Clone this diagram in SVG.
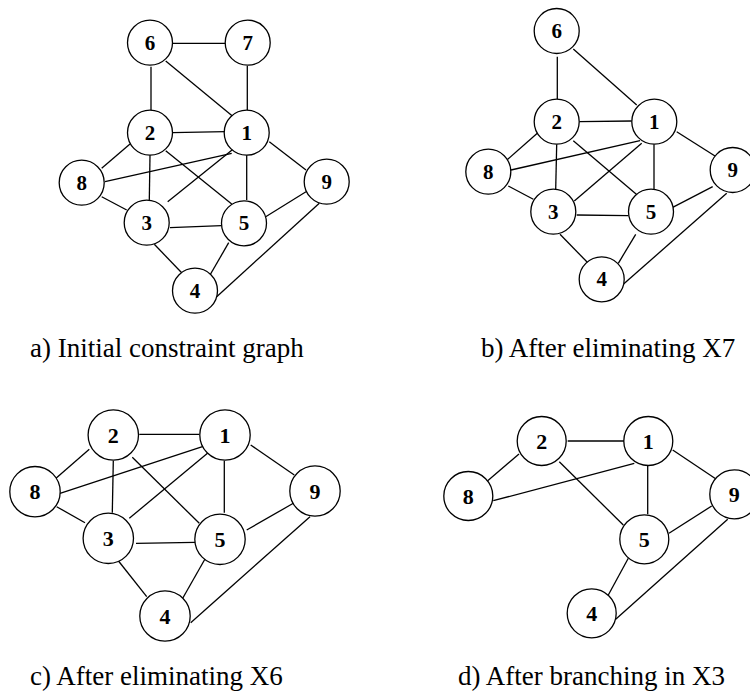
<svg xmlns="http://www.w3.org/2000/svg" width="750" height="691" viewBox="0 0 750 691">
  <style>
    .edge { stroke: #000; stroke-width: 1.3; fill: none; }
    .node circle { fill: #fff; stroke: #000; stroke-width: 1.3; }
    .node text { font-family: "Liberation Serif", "Times New Roman", serif; font-weight: bold; text-anchor: middle; dominant-baseline: central; fill: #000; }
    .small text { font-size: 21px; }
    .large text { font-size: 22px; }
    .caption { font-family: "Liberation Serif", "Times New Roman", serif; font-size: 27px; fill: #000; }
  </style>
  <rect width="750" height="691" fill="#fff"/>

  <!-- Panel a: initial constraint graph -->
  <g id="panel-a">
    <g id="a-edges" class="edge">
      <line x1="172.3" y1="43.3" x2="225.7" y2="43.3"/>
      <line x1="151" y1="66.7" x2="151" y2="110"/>
      <line x1="165.7" y1="61" x2="233.3" y2="116.7"/>
      <line x1="247.3" y1="66" x2="247.3" y2="110"/>
      <line x1="172.3" y1="132.7" x2="225.7" y2="131.7"/>
      <line x1="130" y1="144" x2="101.7" y2="168.3"/>
      <line x1="150" y1="155" x2="149.3" y2="200"/>
      <line x1="165.7" y1="150.7" x2="231.7" y2="204"/>
      <line x1="231.7" y1="153.3" x2="105" y2="181.7"/>
      <line x1="233.3" y1="149" x2="167.7" y2="201.7"/>
      <line x1="246.7" y1="155" x2="246.7" y2="200"/>
      <line x1="269.3" y1="141.7" x2="306" y2="170"/>
      <line x1="101.7" y1="196.7" x2="126.7" y2="210"/>
      <line x1="170" y1="227.7" x2="221.7" y2="225.7"/>
      <line x1="154.3" y1="244.3" x2="181.7" y2="272.7"/>
      <line x1="228.7" y1="242.7" x2="210" y2="275"/>
      <line x1="265.7" y1="216.7" x2="306" y2="191.7"/>
      <line x1="319.3" y1="203.3" x2="216.7" y2="296.7"/>
    </g>
    <g id="a-node-6" class="node small"><circle cx="150" cy="42.7" r="22.5"/><text x="150" y="42.7">6</text></g>
    <g id="a-node-7" class="node small"><circle cx="247.7" cy="42.7" r="22.5"/><text x="247.7" y="42.7">7</text></g>
    <g id="a-node-2" class="node small"><circle cx="150" cy="132.7" r="22.5"/><text x="150" y="132.7">2</text></g>
    <g id="a-node-1" class="node small"><circle cx="246.7" cy="132.7" r="22.5"/><text x="246.7" y="132.7">1</text></g>
    <g id="a-node-8" class="node small"><circle cx="81.7" cy="182.7" r="22.5"/><text x="81.7" y="182.7">8</text></g>
    <g id="a-node-9" class="node small"><circle cx="326.7" cy="181.7" r="22.5"/><text x="326.7" y="181.7">9</text></g>
    <g id="a-node-3" class="node small"><circle cx="146.7" cy="222.7" r="22.5"/><text x="146.7" y="222.7">3</text></g>
    <g id="a-node-5" class="node small"><circle cx="244" cy="223.3" r="22.5"/><text x="244" y="223.3">5</text></g>
    <g id="a-node-4" class="node small"><circle cx="195" cy="290.7" r="22.5"/><text x="195" y="290.7">4</text></g>
    <text class="caption" x="30" y="357">a) Initial constraint graph</text>
  </g>

  <!-- Panel b: after eliminating X7 -->
  <g id="panel-b">
    <g id="b-edges" class="edge">
      <line x1="557.3" y1="56.7" x2="557.3" y2="99"/>
      <line x1="573.3" y1="49" x2="636.7" y2="105"/>
      <line x1="579.3" y1="121.7" x2="631.7" y2="121"/>
      <line x1="537.3" y1="133.3" x2="507.7" y2="159.3"/>
      <line x1="556.7" y1="144.3" x2="555.7" y2="189.3"/>
      <line x1="573.3" y1="140.7" x2="639.3" y2="196.7"/>
      <line x1="640" y1="140.7" x2="511" y2="170"/>
      <line x1="641.7" y1="143.3" x2="574.3" y2="201"/>
      <line x1="654" y1="144.3" x2="654" y2="189.3"/>
      <line x1="676.7" y1="131.7" x2="715" y2="156"/>
      <line x1="508.3" y1="186" x2="533.3" y2="199.3"/>
      <line x1="576.7" y1="215" x2="628.3" y2="215.7"/>
      <line x1="560" y1="234.3" x2="588.3" y2="263.3"/>
      <line x1="635.7" y1="234.3" x2="618.3" y2="263.3"/>
      <line x1="672.7" y1="207.3" x2="712.7" y2="186.7"/>
      <line x1="726.7" y1="193.3" x2="623.3" y2="284.3"/>
    </g>
    <g id="b-node-6" class="node small"><circle cx="556.7" cy="31" r="22.5"/><text x="556.7" y="31">6</text></g>
    <g id="b-node-2" class="node small"><circle cx="556.7" cy="121.7" r="22.5"/><text x="556.7" y="121.7">2</text></g>
    <g id="b-node-1" class="node small"><circle cx="654.3" cy="121.7" r="22.5"/><text x="654.3" y="121.7">1</text></g>
    <g id="b-node-8" class="node small"><circle cx="488.3" cy="171.7" r="22.5"/><text x="488.3" y="171.7">8</text></g>
    <g id="b-node-9" class="node small"><circle cx="732.7" cy="170" r="22.5"/><text x="732.7" y="170">9</text></g>
    <g id="b-node-3" class="node small"><circle cx="553.3" cy="211.7" r="22.5"/><text x="553.3" y="211.7">3</text></g>
    <g id="b-node-5" class="node small"><circle cx="651" cy="211.7" r="22.5"/><text x="651" y="211.7">5</text></g>
    <g id="b-node-4" class="node small"><circle cx="601.7" cy="279.3" r="22.5"/><text x="601.7" y="279.3">4</text></g>
    <text class="caption" x="481" y="357">b) After eliminating X7</text>
  </g>

  <!-- Panel c: after eliminating X6 -->
  <g id="panel-c">
    <g id="c-edges" class="edge">
      <line x1="139.3" y1="434.3" x2="199.3" y2="434.3"/>
      <line x1="89.3" y1="449.3" x2="56" y2="478.3"/>
      <line x1="113.3" y1="460.7" x2="112.3" y2="512.7"/>
      <line x1="132.3" y1="457.3" x2="199.3" y2="523.3"/>
      <line x1="209.3" y1="444.3" x2="60" y2="493.3"/>
      <line x1="209.3" y1="451.7" x2="129.3" y2="518.3"/>
      <line x1="224.3" y1="460.7" x2="224.3" y2="512.7"/>
      <line x1="250.7" y1="445" x2="294.3" y2="475"/>
      <line x1="56.7" y1="506.7" x2="85" y2="522.7"/>
      <line x1="136" y1="543.3" x2="195" y2="542.3"/>
      <line x1="117.7" y1="560" x2="146.7" y2="596.7"/>
      <line x1="205" y1="559" x2="182.7" y2="598.3"/>
      <line x1="246.7" y1="530" x2="293.3" y2="503.3"/>
      <line x1="310" y1="516.7" x2="190.7" y2="622.7"/>
    </g>
    <g id="c-node-2" class="node large"><circle cx="113.3" cy="435" r="25.2"/><text x="113.3" y="435">2</text></g>
    <g id="c-node-1" class="node large"><circle cx="225" cy="435" r="25.2"/><text x="225" y="435">1</text></g>
    <g id="c-node-8" class="node large"><circle cx="35" cy="491.7" r="25.2"/><text x="35" y="491.7">8</text></g>
    <g id="c-node-9" class="node large"><circle cx="315" cy="491" r="25.2"/><text x="315" y="491">9</text></g>
    <g id="c-node-3" class="node large"><circle cx="108.3" cy="538.3" r="25.2"/><text x="108.3" y="538.3">3</text></g>
    <g id="c-node-5" class="node large"><circle cx="220" cy="539.3" r="25.2"/><text x="220" y="539.3">5</text></g>
    <g id="c-node-4" class="node large"><circle cx="165" cy="616" r="25.2"/><text x="165" y="616">4</text></g>
    <text class="caption" x="30" y="685">c) After eliminating X6</text>
  </g>

  <!-- Panel d: after branching in X3 -->
  <g id="panel-d">
    <g id="d-edges" class="edge">
      <line x1="567.7" y1="441" x2="625" y2="441"/>
      <line x1="519" y1="454" x2="487.7" y2="480.7"/>
      <line x1="559.3" y1="461.7" x2="623.3" y2="525"/>
      <line x1="634.3" y1="463.3" x2="493.3" y2="500.7"/>
      <line x1="647.7" y1="466" x2="647.7" y2="514.3"/>
      <line x1="672.7" y1="450" x2="716" y2="479"/>
      <line x1="669" y1="533.3" x2="711.7" y2="506"/>
      <line x1="628.3" y1="558.3" x2="608.3" y2="595"/>
      <line x1="727.7" y1="519.3" x2="615.7" y2="619.3"/>
    </g>
    <g id="d-node-2" class="node large"><circle cx="541.7" cy="441" r="24.5"/><text x="541.7" y="441">2</text></g>
    <g id="d-node-1" class="node large"><circle cx="648.3" cy="441" r="24.5"/><text x="648.3" y="441">1</text></g>
    <g id="d-node-8" class="node large"><circle cx="468.3" cy="496" r="24.5"/><text x="468.3" y="496">8</text></g>
    <g id="d-node-9" class="node large"><circle cx="734.3" cy="494.3" r="24.5"/><text x="734.3" y="494.3">9</text></g>
    <g id="d-node-5" class="node large"><circle cx="644.3" cy="539.3" r="24.5"/><text x="644.3" y="539.3">5</text></g>
    <g id="d-node-4" class="node large"><circle cx="591.7" cy="613.3" r="24.5"/><text x="591.7" y="613.3">4</text></g>
    <text class="caption" x="458" y="685">d) After branching in X3</text>
  </g>
</svg>
